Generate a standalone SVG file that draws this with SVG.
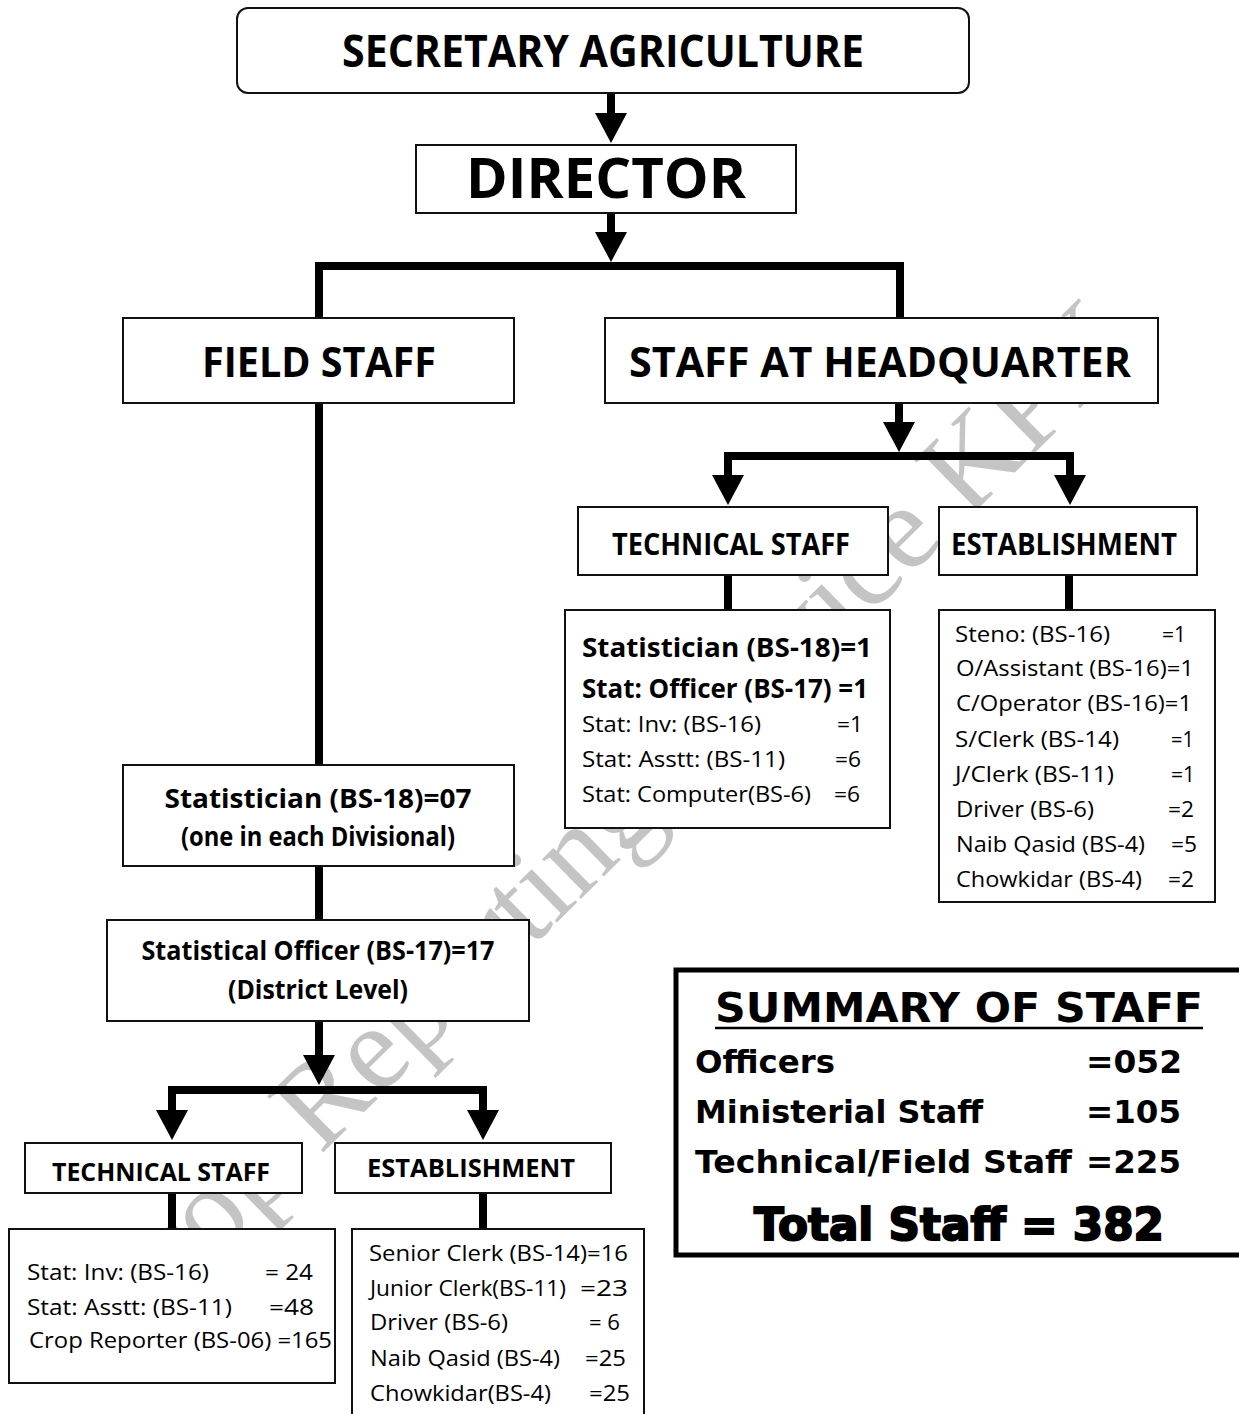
<svg xmlns="http://www.w3.org/2000/svg" width="1239" height="1414" viewBox="0 0 1239 1414">
<defs>
<style>
.box{fill:#fff;stroke:#111;stroke-width:2}
.conn{stroke:#000;stroke-width:8;fill:none;stroke-linejoin:miter}
.t{font-family:"Open Sans","Liberation Sans",sans-serif;fill:#000}
.b{font-weight:bold}
.s{font-family:"DejaVu Sans","Liberation Sans",sans-serif;font-weight:bold;fill:#000}
.wm{font-family:"Liberation Serif","DejaVu Serif",serif;fill:#c4c4c4}
</style>
<marker id="ah" viewBox="0 0 30 32" refX="15" refY="16" markerWidth="30" markerHeight="32" markerUnits="userSpaceOnUse" orient="auto">
<path d="M0,0 L30,16 L0,32 Z" fill="#000"/>
</marker>
</defs>
<rect width="1239" height="1414" fill="#fff"/>

<g id="watermark">
<text class="wm" font-size="121" transform="translate(126,1346) rotate(-44.5)">Crop Reporting Service KPK</text>
</g>

<g id="connectors">
<line class="conn" x1="611" y1="93" x2="611" y2="128" marker-end="url(#ah)"/>
<line class="conn" x1="611" y1="213" x2="611" y2="247" marker-end="url(#ah)"/>
<path class="conn" d="M319,318 V266 H900 V318"/>
<line class="conn" x1="319" y1="403" x2="319" y2="765"/>
<line class="conn" x1="319" y1="866" x2="319" y2="920"/>
<line class="conn" x1="319" y1="1021" x2="319" y2="1070" marker-end="url(#ah)"/>
<path class="conn" d="M323,1090 H172 V1125" marker-end="url(#ah)"/>
<path class="conn" d="M315,1090 H483 V1125" marker-end="url(#ah)"/>
<line class="conn" x1="172" y1="1193" x2="172" y2="1230"/>
<line class="conn" x1="483" y1="1193" x2="483" y2="1230"/>
<line class="conn" x1="899" y1="403" x2="899" y2="437" marker-end="url(#ah)"/>
<path class="conn" d="M903,456 H728 V490" marker-end="url(#ah)"/>
<path class="conn" d="M895,456 H1070 V490" marker-end="url(#ah)"/>
<line class="conn" x1="728" y1="575" x2="728" y2="610"/>
<line class="conn" x1="1069" y1="575" x2="1069" y2="610"/>
</g>

<g id="secretary">
<rect class="box" x="237" y="8" width="732" height="85" rx="11"/>
<text class="t b" x="603" y="67" font-size="44" text-anchor="middle" textLength="522" lengthAdjust="spacingAndGlyphs">SECRETARY AGRICULTURE</text>
</g>

<g id="director">
<rect class="box" x="416" y="145" width="380" height="68"/>
<text class="t b" x="606" y="198" font-size="56" text-anchor="middle" textLength="280" lengthAdjust="spacingAndGlyphs">DIRECTOR</text>
</g>

<g id="field-staff">
<rect class="box" x="123" y="318" width="391" height="85"/>
<text class="t b" x="319" y="377" font-size="42" text-anchor="middle" textLength="234" lengthAdjust="spacingAndGlyphs">FIELD STAFF</text>
</g>

<g id="hq-staff">
<rect class="box" x="605" y="318" width="553" height="85"/>
<text class="t b" x="880" y="377" font-size="42" text-anchor="middle" textLength="502" lengthAdjust="spacingAndGlyphs">STAFF AT HEADQUARTER</text>
</g>

<g id="hq-technical">
<rect class="box" x="578" y="507" width="310" height="68"/>
<text class="t b" x="731" y="555" font-size="30" text-anchor="middle" textLength="238" lengthAdjust="spacingAndGlyphs">TECHNICAL STAFF</text>
</g>

<g id="hq-establishment">
<rect class="box" x="939" y="507" width="258" height="68"/>
<text class="t b" x="1064" y="555" font-size="30" text-anchor="middle" textLength="226" lengthAdjust="spacingAndGlyphs">ESTABLISHMENT</text>
</g>

<g id="hq-technical-list">
<rect class="box" x="565" y="610" width="325" height="218"/>
<text class="t b" x="582" y="657" font-size="27" textLength="290" lengthAdjust="spacingAndGlyphs">Statistician (BS-18)=1</text>
<text class="t b" x="582" y="698" font-size="27" textLength="286" lengthAdjust="spacingAndGlyphs">Stat: Officer (BS-17)  =1</text>
<text class="t" x="582" y="732" font-size="22" textLength="179" lengthAdjust="spacingAndGlyphs">Stat: Inv: (BS-16)</text>
<text class="t" x="837" y="732" font-size="22" textLength="26" lengthAdjust="spacingAndGlyphs">=1</text>
<text class="t" x="582" y="767" font-size="22" textLength="203" lengthAdjust="spacingAndGlyphs">Stat: Asstt: (BS-11)</text>
<text class="t" x="835" y="767" font-size="22" textLength="26" lengthAdjust="spacingAndGlyphs">=6</text>
<text class="t" x="582" y="802" font-size="22" textLength="229" lengthAdjust="spacingAndGlyphs">Stat: Computer(BS-6)</text>
<text class="t" x="834" y="802" font-size="22" textLength="26" lengthAdjust="spacingAndGlyphs">=6</text>
</g>

<g id="hq-establishment-list">
<rect class="box" x="939" y="610" width="276" height="292"/>
<text class="t" x="955" y="642" font-size="22" textLength="155" lengthAdjust="spacingAndGlyphs">Steno: (BS-16)</text>
<text class="t" x="1162" y="642" font-size="22" textLength="24" lengthAdjust="spacingAndGlyphs">=1</text>
<text class="t" x="956" y="676" font-size="22" textLength="238" lengthAdjust="spacingAndGlyphs">O/Assistant (BS-16)=1</text>
<text class="t" x="956" y="711" font-size="22" textLength="236" lengthAdjust="spacingAndGlyphs">C/Operator (BS-16)=1</text>
<text class="t" x="955" y="747" font-size="22" textLength="164" lengthAdjust="spacingAndGlyphs">S/Clerk (BS-14)</text>
<text class="t" x="1171" y="747" font-size="22" textLength="23" lengthAdjust="spacingAndGlyphs">=1</text>
<text class="t" x="955" y="782" font-size="22" textLength="159" lengthAdjust="spacingAndGlyphs">J/Clerk (BS-11)</text>
<text class="t" x="1171" y="782" font-size="22" textLength="24" lengthAdjust="spacingAndGlyphs">=1</text>
<text class="t" x="956" y="817" font-size="22" textLength="138" lengthAdjust="spacingAndGlyphs">Driver (BS-6)</text>
<text class="t" x="1168" y="817" font-size="22" textLength="26" lengthAdjust="spacingAndGlyphs">=2</text>
<text class="t" x="956" y="852" font-size="22" textLength="189" lengthAdjust="spacingAndGlyphs">Naib Qasid (BS-4)</text>
<text class="t" x="1171" y="852" font-size="22" textLength="26" lengthAdjust="spacingAndGlyphs">=5</text>
<text class="t" x="956" y="887" font-size="22" textLength="186" lengthAdjust="spacingAndGlyphs">Chowkidar (BS-4)</text>
<text class="t" x="1168" y="887" font-size="22" textLength="26" lengthAdjust="spacingAndGlyphs">=2</text>
</g>

<g id="field-statistician">
<rect class="box" x="123" y="765" width="391" height="101"/>
<text class="t b" x="318" y="808" font-size="27" text-anchor="middle" textLength="307" lengthAdjust="spacingAndGlyphs">Statistician (BS-18)=07</text>
<text class="t b" x="318" y="846" font-size="26" text-anchor="middle" textLength="274" lengthAdjust="spacingAndGlyphs">(one in each Divisional)</text>
</g>

<g id="field-officer">
<rect class="box" x="107" y="920" width="422" height="101"/>
<text class="t b" x="318" y="960" font-size="27" text-anchor="middle" textLength="353" lengthAdjust="spacingAndGlyphs">Statistical Officer (BS-17)=17</text>
<text class="t b" x="318" y="999" font-size="27" text-anchor="middle" textLength="180" lengthAdjust="spacingAndGlyphs">(District Level)</text>
</g>

<g id="field-technical">
<rect class="box" x="25" y="1143" width="277" height="50"/>
<text class="t b" x="161" y="1181" font-size="25" text-anchor="middle" textLength="218" lengthAdjust="spacingAndGlyphs">TECHNICAL STAFF</text>
</g>

<g id="field-establishment">
<rect class="box" x="335" y="1143" width="276" height="50"/>
<text class="t b" x="471" y="1177" font-size="25" text-anchor="middle" textLength="208" lengthAdjust="spacingAndGlyphs">ESTABLISHMENT</text>
</g>

<g id="field-technical-list">
<rect class="box" x="9" y="1229" width="326" height="154"/>
<text class="t" x="27" y="1280" font-size="22" textLength="182" lengthAdjust="spacingAndGlyphs">Stat: Inv: (BS-16)</text>
<text class="t" x="265" y="1280" font-size="22" textLength="48" lengthAdjust="spacingAndGlyphs">= 24</text>
<text class="t" x="27" y="1315" font-size="22" textLength="205" lengthAdjust="spacingAndGlyphs">Stat: Asstt: (BS-11)</text>
<text class="t" x="269" y="1315" font-size="22" textLength="45" lengthAdjust="spacingAndGlyphs">=48</text>
<text class="t" x="29" y="1348" font-size="22" textLength="303" lengthAdjust="spacingAndGlyphs">Crop Reporter (BS-06) =165</text>
</g>

<g id="field-establishment-list">
<rect class="box" x="352" y="1229" width="292" height="200"/>
<text class="t" x="369" y="1261" font-size="22" textLength="259" lengthAdjust="spacingAndGlyphs">Senior Clerk (BS-14)=16</text>
<text class="t" x="370" y="1296" font-size="22" textLength="196" lengthAdjust="spacingAndGlyphs">Junior Clerk(BS-11)</text>
<text class="t" x="580" y="1296" font-size="22" textLength="48" lengthAdjust="spacingAndGlyphs">=23</text>
<text class="t" x="370" y="1330" font-size="22" textLength="138" lengthAdjust="spacingAndGlyphs">Driver (BS-6)</text>
<text class="t" x="589" y="1330" font-size="22" textLength="31" lengthAdjust="spacingAndGlyphs">= 6</text>
<text class="t" x="370" y="1366" font-size="22" textLength="190" lengthAdjust="spacingAndGlyphs">Naib Qasid (BS-4)</text>
<text class="t" x="585" y="1366" font-size="22" textLength="41" lengthAdjust="spacingAndGlyphs">=25</text>
<text class="t" x="370" y="1401" font-size="22" textLength="181" lengthAdjust="spacingAndGlyphs">Chowkidar(BS-4)</text>
<text class="t" x="589" y="1401" font-size="22" textLength="41" lengthAdjust="spacingAndGlyphs">=25</text>
</g>

<g id="summary">
<rect x="676" y="970" width="600" height="285" fill="#fff" stroke="#000" stroke-width="5"/>
<text class="s" x="715" y="1022" font-size="40" textLength="488" lengthAdjust="spacingAndGlyphs">SUMMARY OF STAFF</text>
<line x1="715" y1="1028" x2="1203" y2="1028" stroke="#000" stroke-width="2.5"/>
<text class="s" x="695" y="1073" font-size="32" textLength="140" lengthAdjust="spacingAndGlyphs">Officers</text>
<text class="s" x="1086" y="1073" font-size="32" textLength="96" lengthAdjust="spacingAndGlyphs">=052</text>
<text class="s" x="695" y="1123" font-size="32" textLength="288" lengthAdjust="spacingAndGlyphs">Ministerial Staff</text>
<text class="s" x="1086" y="1123" font-size="32" textLength="95" lengthAdjust="spacingAndGlyphs">=105</text>
<text class="s" x="695" y="1173" font-size="32" textLength="377" lengthAdjust="spacingAndGlyphs">Technical/Field Staff</text>
<text class="s" x="1086" y="1173" font-size="32" textLength="95" lengthAdjust="spacingAndGlyphs">=225</text>
<text class="s" x="754" y="1240" font-size="45" stroke="#000" stroke-width="2" textLength="410" lengthAdjust="spacingAndGlyphs">Total Staff = 382</text>
</g>
</svg>
